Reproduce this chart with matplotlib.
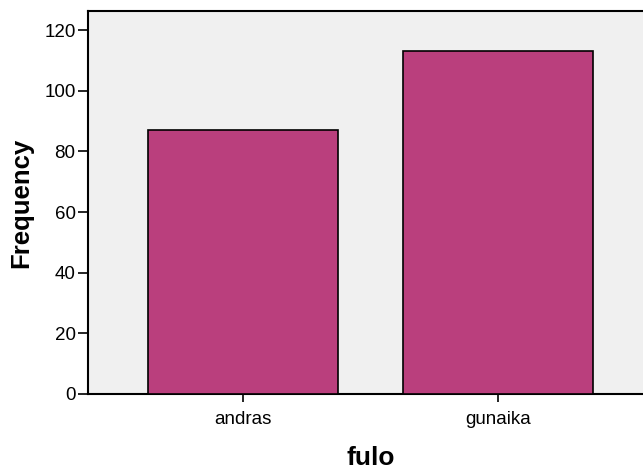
import matplotlib
matplotlib.use("Agg")
import matplotlib.pyplot as plt

categories = ["andras", "gunaika"]
frequencies = [87, 113]
y_ticks = [0, 20, 40, 60, 80, 100, 120]

plt.rcParams["font.family"] = ["Liberation Sans", "DejaVu Sans"]

fig = plt.figure(figsize=(6.43, 4.72), dpi=100)
ax = fig.add_axes([88 / 643, 78 / 472, 565 / 643, 383 / 472])
ax.set_facecolor("#F0F0F0")

x = range(len(categories))
ax.bar(x, frequencies, width=0.745, color="#BA3F7D", edgecolor="black", linewidth=1.2, zorder=3)

ax.set_xlim(-0.608, 1.608)
ax.set_ylim(0, 126.3)
ax.set_xticks(list(x))
ax.set_xticklabels(categories)
ax.set_yticks(y_ticks)

ax.spines["right"].set_visible(False)
for side in ("left", "bottom", "top"):
    ax.spines[side].set_linewidth(1.5)
    ax.spines[side].set_color("black")

ax.tick_params(axis="y", direction="out", length=7, width=1.2, labelsize=13.5, pad=2)
ax.tick_params(axis="x", direction="out", length=6, width=1.2, labelsize=13.5, pad=6)

ax.set_xlabel("fulo", fontsize=19, fontweight="bold", labelpad=13)
ax.set_ylabel("Frequency", fontsize=18.5, fontweight="bold", labelpad=8)

fig.savefig("out.png", dpi=100)
